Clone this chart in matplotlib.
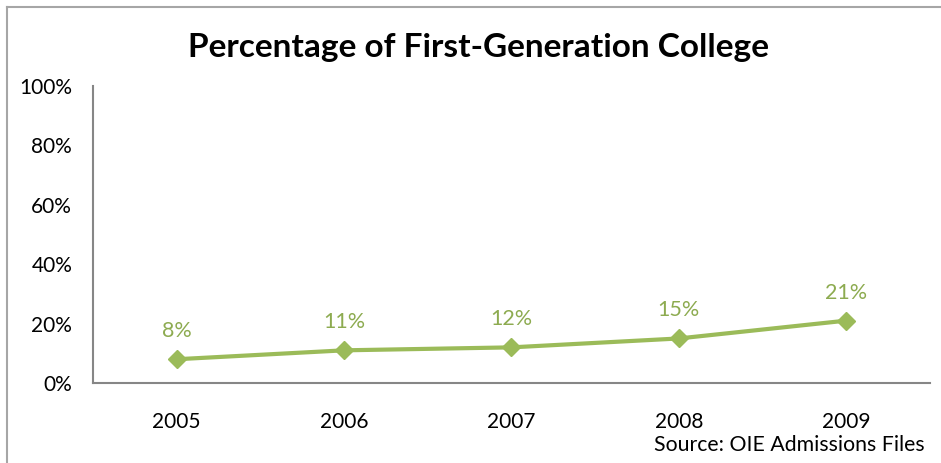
import matplotlib
matplotlib.use('Agg')
import matplotlib.pyplot as plt
from matplotlib.lines import Line2D

plt.rcParams['font.family'] = ['Lato', 'DejaVu Sans']

# data
years = ['2005', '2006', '2007', '2008', '2009']
pct = [8, 11, 12, 15, 21]
yticks = [0, 20, 40, 60, 80, 100]
ytick_labels = ['0%', '20%', '40%', '60%', '80%', '100%']

green = '#9BBB59'
label_green = '#8DAB50'
gray = '#868686'

fig = plt.figure(figsize=(9.41, 4.63), dpi=100)
ax = fig.add_axes([93/941, 1 - 383/463, (930-93)/941, (383-86)/463])

x = list(range(len(years)))
ax.plot(x, pct, color=green, lw=3, marker='D', ms=9, zorder=3)
for xi, v in zip(x, pct):
    ax.annotate(f'{v}%', (xi, v), xytext=(0, 13), textcoords='offset points',
                ha='center', va='bottom', color=label_green, fontsize=15.5)

ax.set_xlim(-0.5, len(years) - 0.5)
ax.set_ylim(0, 100)
ax.set_xticks(x)
ax.set_xticklabels(years, fontsize=15)
ax.set_yticks(yticks)
ax.set_yticklabels(ytick_labels, fontsize=15)
ax.tick_params(length=0, pad=21, axis='x')
ax.tick_params(length=0, pad=15, axis='y')
for s in ['top', 'right']:
    ax.spines[s].set_visible(False)
for s in ['left', 'bottom']:
    ax.spines[s].set_color(gray)
    ax.spines[s].set_linewidth(1.5)

fig.text(479/941, 1 - 47/463, 'Percentage of First-Generation College',
         ha='center', va='center', fontsize=24, fontweight='bold')
fig.text(925/941, 1 - 451/463, 'Source: OIE Admissions Files',
         ha='right', va='baseline', fontsize=15.3)

# chart border (only top and left visible)
fig.add_artist(Line2D([7/941, 1], [1 - 7/463, 1 - 7/463], color='#A6A6A6', lw=1.5))
fig.add_artist(Line2D([7/941, 7/941], [0, 1 - 7/463], color='#A6A6A6', lw=1.5))

fig.savefig('out.png', dpi=100)
